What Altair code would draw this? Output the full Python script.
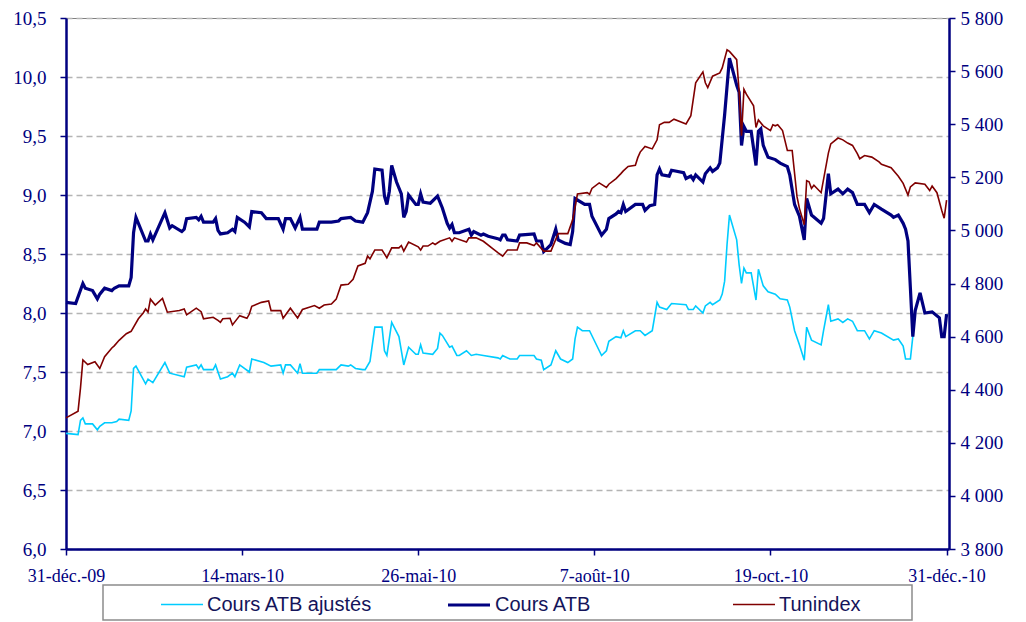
import altair as alt
import pandas as pd

# Jours écoulés depuis le 31-déc.-09 et valeurs
jours_atb = [0, 4, 7, 8, 11, 13, 14, 16, 19, 20, 22, 26, 27, 28, 29, 33, 34, 35, 36, 41, 43, 44, 48, 49, 50,
             54, 55, 56, 57, 61, 62, 63, 64, 67, 69, 70, 71, 74, 76, 77, 81, 83, 85, 88, 90, 91, 93, 95, 97, 98,
             104, 105, 110, 113, 114, 118, 120, 123, 125, 127, 128, 131, 132, 133, 134, 135, 137, 139, 140, 141,
             142, 145, 146, 147, 148, 151, 154, 156, 158, 159, 160, 161, 163, 167, 168, 169, 172, 173, 175, 179,
             180, 181, 182, 183, 187, 188, 194, 195, 197, 198, 199, 201, 203, 204, 207, 209, 210, 211, 215, 217,
             218, 222, 224, 225, 228, 229, 230, 231, 232, 236, 239, 240, 242, 244, 245, 246, 247, 250, 251, 256,
             257, 259, 260, 261, 264, 265, 267, 268, 270, 271, 273, 275, 278, 279, 280, 281, 282, 284, 286, 287,
             288, 289, 291, 294, 296, 299, 300, 302, 304, 306, 307, 309, 313, 314, 316, 317, 320, 322, 324, 326,
             328, 331, 333, 335, 338, 342, 343, 345, 347, 348, 349, 350, 351, 352, 354, 356, 359, 362, 363, 364, 365]
cours_atb = [8.09, 8.08, 8.25, 8.21, 8.19, 8.12, 8.16, 8.21, 8.19, 8.21, 8.23, 8.23, 8.30, 8.68, 8.81, 8.61, 8.61,
             8.67, 8.62, 8.85, 8.72, 8.74, 8.69, 8.71, 8.80, 8.81, 8.79, 8.82, 8.77, 8.77, 8.80, 8.70, 8.67, 8.68,
             8.71, 8.69, 8.81, 8.77, 8.73, 8.86, 8.85, 8.80, 8.80, 8.80, 8.71, 8.80, 8.80, 8.72, 8.81, 8.71, 8.71,
             8.77, 8.77, 8.78, 8.80, 8.81, 8.78, 8.77, 8.85, 9.03, 9.22, 9.21, 8.99, 8.92, 9.03, 9.25, 9.11, 9.01,
             8.81, 8.86, 9.00, 8.92, 8.92, 9.01, 8.94, 8.93, 8.99, 8.89, 8.76, 8.72, 8.75, 8.68, 8.68, 8.71, 8.66,
             8.69, 8.66, 8.67, 8.65, 8.63, 8.62, 8.66, 8.66, 8.62, 8.61, 8.66, 8.67, 8.61, 8.61, 8.52, 8.54, 8.58,
             8.71, 8.62, 8.59, 8.58, 8.69, 8.97, 8.92, 8.92, 8.82, 8.66, 8.71, 8.80, 8.84, 8.86, 8.85, 8.92, 8.86,
             8.92, 8.92, 8.87, 8.91, 8.92, 9.17, 9.22, 9.17, 9.16, 9.21, 9.19, 9.14, 9.16, 9.13, 9.17, 9.11, 9.18,
             9.23, 9.20, 9.23, 9.27, 9.68, 10.16, 9.93, 9.87, 9.42, 9.58, 9.54, 9.54, 9.25, 9.54, 9.56, 9.42, 9.32,
             9.30, 9.27, 9.24, 9.17, 8.92, 8.82, 8.62, 8.97, 8.83, 8.76, 8.80, 9.18, 9.01, 9.05, 9.01, 9.05, 9.02,
             8.92, 8.92, 8.85, 8.92, 8.88, 8.83, 8.81, 8.83, 8.76, 8.71, 8.61, 8.21, 7.80, 8.02, 8.17, 8.00, 8.01,
             7.96, 7.80, 7.80, 7.99]

jours_aj = [0, 5, 6, 7, 8, 11, 13, 14, 16, 19, 21, 22, 26, 27, 28, 29, 33, 34, 36, 41, 43, 49, 50, 54, 55, 56, 57,
            61, 62, 64, 67, 69, 70, 72, 76, 77, 82, 85, 89, 90, 91, 93, 96, 97, 98, 104, 105, 112, 114, 117, 118,
            120, 123, 124, 126, 128, 131, 132, 133, 135, 138, 140, 142, 145, 146, 147, 148, 152, 154, 155, 156,
            159, 160, 162, 163, 166, 168, 170, 173, 179, 180, 181, 182, 184, 187, 188, 194, 195, 197, 198, 201,
            203, 205, 208, 210, 211, 212, 214, 217, 222, 224, 225, 228, 230, 231, 232, 236, 238, 240, 243, 245,
            246, 249, 251, 257, 258, 260, 261, 264, 265, 267, 268, 271, 272, 273, 274, 275, 278, 279, 280, 281,
            282, 284, 286, 287, 289, 291, 294, 296, 299, 300, 302, 304, 306, 307, 309, 313, 314, 316, 317, 320,
            322, 324, 326, 328, 331, 333, 335, 338, 343, 345, 347, 348, 350, 351, 352, 354, 356, 359, 362, 363,
            364, 365]
cours_aj = [6.98, 6.97, 7.09, 7.11, 7.06, 7.06, 7.01, 7.04, 7.07, 7.07, 7.08, 7.10, 7.09, 7.17, 7.53, 7.55, 7.40,
            7.44, 7.41, 7.58, 7.49, 7.46, 7.54, 7.56, 7.53, 7.56, 7.52, 7.52, 7.56, 7.44, 7.46, 7.49, 7.46, 7.56,
            7.50, 7.61, 7.58, 7.55, 7.56, 7.49, 7.56, 7.56, 7.49, 7.57, 7.49, 7.49, 7.52, 7.52, 7.56, 7.55, 7.56,
            7.53, 7.52, 7.52, 7.59, 7.88, 7.88, 7.68, 7.64, 7.92, 7.80, 7.56, 7.71, 7.65, 7.65, 7.73, 7.66, 7.65,
            7.70, 7.83, 7.81, 7.71, 7.72, 7.64, 7.64, 7.68, 7.64, 7.65, 7.64, 7.62, 7.61, 7.64, 7.63, 7.61, 7.61,
            7.64, 7.64, 7.61, 7.60, 7.52, 7.56, 7.68, 7.61, 7.58, 7.61, 7.78, 7.88, 7.85, 7.85, 7.64, 7.68, 7.76,
            7.80, 7.79, 7.85, 7.80, 7.85, 7.85, 7.81, 7.85, 8.09, 8.05, 8.03, 8.08, 8.07, 8.03, 8.03, 8.06, 8.00,
            8.06, 8.09, 8.07, 8.11, 8.16, 8.27, 8.58, 8.83, 8.62, 8.41, 8.25, 8.38, 8.34, 8.34, 8.11, 8.37, 8.23,
            8.18, 8.16, 8.12, 8.11, 8.05, 7.85, 7.73, 7.60, 7.88, 7.77, 7.73, 7.85, 8.07, 7.93, 7.95, 7.92, 7.95,
            7.93, 7.85, 7.85, 7.78, 7.85, 7.83, 7.77, 7.78, 7.72, 7.61, 7.61, 7.80, 8.02, 8.17, 8.00, 8.01, 7.96,
            7.80, 7.80, 7.99]

jours_tun = [0, 5, 6, 7, 9, 12, 14, 16, 19, 20, 22, 25, 27, 30, 32, 33, 34, 35, 37, 40, 42, 47, 49, 50, 54, 56,
             57, 61, 63, 64, 65, 68, 69, 72, 75, 76, 77, 81, 84, 85, 89, 90, 93, 96, 98, 103, 105, 107, 110, 112,
             114, 117, 119, 121, 124, 125, 126, 128, 131, 133, 135, 138, 139, 140, 142, 146, 147, 148, 150, 152,
             153, 155, 159, 160, 161, 166, 167, 170, 173, 177, 179, 181, 183, 187, 188, 191, 194, 195, 198, 201,
             204, 208, 210, 212, 216, 217, 218, 221, 224, 225, 228, 230, 231, 233, 236, 237, 238, 240, 243, 245,
             246, 248, 250, 252, 257, 259, 261, 264, 265, 266, 268, 271, 272, 274, 275, 278, 279, 280, 281, 282,
             285, 286, 287, 289, 292, 293, 294, 295, 297, 299, 301, 303, 304, 306, 307, 308, 309, 310, 313, 316,
             317, 320, 322, 324, 326, 328, 329, 331, 334, 337, 338, 342, 345, 347, 349, 350, 352, 356, 358, 359,
             361, 363, 364, 365]
tunindex = [4294, 4319, 4406, 4512, 4495, 4505, 4480, 4524, 4557, 4565, 4586, 4611, 4620, 4667, 4689, 4704, 4692,
            4741, 4719, 4744, 4692, 4698, 4704, 4682, 4707, 4694, 4667, 4673, 4661, 4654, 4667, 4669, 4644, 4679,
            4669, 4685, 4714, 4729, 4734, 4698, 4698, 4669, 4707, 4670, 4702, 4717, 4707, 4719, 4723, 4741, 4794,
            4797, 4816, 4866, 4876, 4903, 4893, 4926, 4926, 4897, 4934, 4934, 4943, 4922, 4956, 4938, 4926, 4941,
            4941, 4953, 4947, 4959, 4972, 4959, 4972, 4956, 4972, 4972, 4959, 4930, 4916, 4903, 4926, 4926, 4953,
            4953, 4943, 4953, 4922, 4922, 4988, 4988, 5040, 5137, 5142, 5136, 5158, 5179, 5162, 5174, 5195, 5214,
            5224, 5241, 5245, 5274, 5295, 5316, 5307, 5341, 5398, 5407, 5407, 5419, 5401, 5432, 5556, 5597, 5556,
            5538, 5581, 5593, 5612, 5680, 5674, 5643, 5525, 5357, 5531, 5513, 5469, 5388, 5416, 5394, 5376, 5398,
            5394, 5398, 5376, 5301, 5301, 5127, 5083, 5021, 5187, 5183, 5158, 5170, 5142, 5291, 5326, 5348, 5341,
            5329, 5320, 5289, 5270, 5282, 5276, 5258, 5249, 5236, 5204, 5177, 5133, 5164, 5179, 5174, 5150, 5167,
            5142, 5075, 5046, 5114]

series = ["Cours ATB ajustés", "Cours ATB", "Tunindex"]
couleurs = ["#00CCFF", "#000080", "#800000"]
epaisseurs = [1.6, 3.2, 1.6]

origine = pd.Timestamp("2009-12-31")


def table(jours, valeurs, nom):
    return pd.DataFrame({
        "date": origine + pd.to_timedelta(jours, unit="D"),
        "valeur": valeurs,
        "serie": nom,
    })


df_aj = table(jours_aj, cours_aj, series[0])
df_atb = table(jours_atb, cours_atb, series[1])
df_tun = table(jours_tun, tunindex, series[2])

NAVY = "#000080"
FONT = "Liberation Serif"
mois = "['janv.','févr.','mars','avr.','mai','juin','juil.','août','sept.','oct.','nov.','déc.']"

x_enc = alt.X(
    "date:T",
    scale=alt.Scale(domain=[alt.DateTime(year=2009, month=12, date=31),
                            alt.DateTime(year=2011, month=1, date=1)]),
    axis=alt.Axis(
        title=None,
        values=[alt.DateTime(year=2009, month=12, date=31), alt.DateTime(year=2010, month=3, date=14),
                alt.DateTime(year=2010, month=5, date=26), alt.DateTime(year=2010, month=8, date=7),
                alt.DateTime(year=2010, month=10, date=19), alt.DateTime(year=2010, month=12, date=31)],
        labelExpr="date(datum.value) + '-' + " + mois + "[month(datum.value)] + '-' + timeFormat(datum.value, '%y')",
        grid=False, domainColor=NAVY, domainWidth=2.5, tickColor=NAVY, tickWidth=1.5, tickSize=6,
        labelFont=FONT, labelFontSize=18, labelColor=NAVY, labelPadding=12, labelFlush=False,
    ),
)

y_left = alt.Y(
    "valeur:Q",
    scale=alt.Scale(domain=[6, 10.5], nice=False, zero=False),
    axis=alt.Axis(
        title=None, values=[6, 6.5, 7, 7.5, 8, 8.5, 9, 9.5, 10, 10.5],
        labelExpr="replace(format(datum.value, '.1f'), '.', ',')",
        grid=True, gridColor="#B4B4B4", gridDash=[6, 4], gridWidth=1.3,
        domainColor=NAVY, domainWidth=2.5, tickColor=NAVY, tickWidth=1.5, tickSize=6,
        labelFont=FONT, labelFontSize=19, labelColor=NAVY, labelPadding=14,
    ),
)

y_right = alt.Y(
    "valeur:Q",
    scale=alt.Scale(domain=[3800, 5800], nice=False, zero=False),
    axis=alt.Axis(
        title=None, orient="right", values=list(range(3800, 5801, 200)),
        labelExpr="replace(format(datum.value, ',d'), ',', ' ')",
        grid=False, domainColor=NAVY, domainWidth=2.5, tickColor=NAVY, tickWidth=1.5, tickSize=6,
        labelFont=FONT, labelFontSize=19, labelColor=NAVY, labelPadding=5,
    ),
)

legende = alt.Legend(
    title=None, orient="none", legendX=94, legendY=564, direction="horizontal",
    symbolType="stroke", symbolSize=1764, gridAlign="all", columnPadding=68, padding=0,
    labelFont="Liberation Sans Narrow, Liberation Sans, sans-serif", labelFontSize=20,
    labelColor="#14145A", labelLimit=400, labelOffset=3,
)

couleur = alt.Color("serie:N", scale=alt.Scale(domain=series, range=couleurs), legend=legende)
epaisseur = alt.StrokeWidth("serie:N", scale=alt.Scale(type="ordinal", domain=series, range=epaisseurs),
                            legend=legende)

ligne_aj = alt.Chart(df_aj).mark_line().encode(x=x_enc, y=y_left, color=couleur, strokeWidth=epaisseur)
ligne_atb = alt.Chart(df_atb).mark_line().encode(x=x_enc, y=y_left, color=couleur, strokeWidth=epaisseur)
ligne_tun = alt.Chart(df_tun).mark_line().encode(x=x_enc, y=y_right, color=couleur, strokeWidth=epaisseur)

cadre = alt.Chart(alt.Data(values=[{}])).mark_rect(filled=False, stroke="#8C8C8C", strokeWidth=1.5).encode(
    x=alt.value(37), x2=alt.value(846), y=alt.value(567), y2=alt.value(602)
)

gauche = alt.layer(ligne_aj, ligne_atb, cadre)

chart = alt.layer(gauche, ligne_tun).resolve_scale(y="independent").properties(
    width=883, height=531,
    autosize=alt.AutoSizeParams(type="none"),
    padding={"left": 58, "top": 10, "right": 60, "bottom": 72},
).configure_view(stroke="#808080", strokeWidth=1)

chart.save("out.html", embed_options={"renderer": "svg", "actions": False})
